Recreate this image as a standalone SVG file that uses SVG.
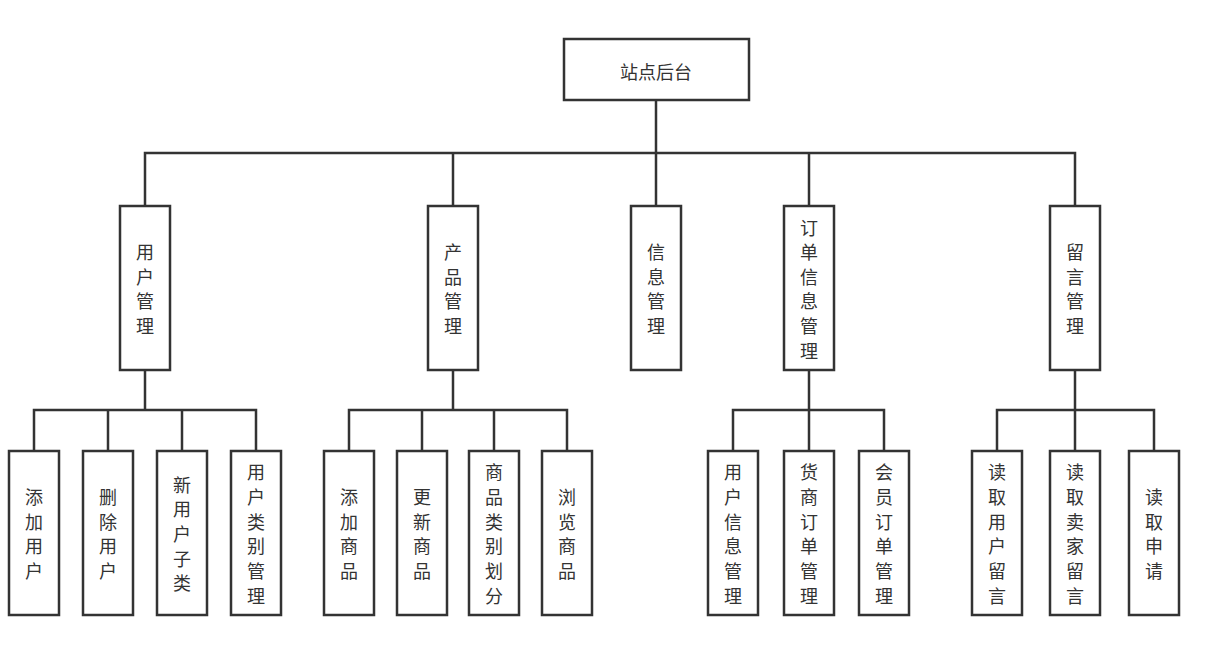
<svg xmlns="http://www.w3.org/2000/svg" width="1217" height="654" viewBox="0 0 1217 654">
<style>
.box{fill:#fff;stroke:#333;stroke-width:2.5}
.lbl{font-family:"Noto Sans CJK SC","Noto Sans",sans-serif;font-size:18px;fill:#333;text-anchor:middle;dominant-baseline:central}
.conn path{fill:none;stroke:#333;stroke-width:2.5}
</style>
<rect width="1217" height="654" fill="#fff"/>
<g class="conn" id="connectors">
<path d="M656 100V153"/>
<path d="M145 206V153H1075V206"/>
<path d="M453 153V206"/><path d="M656 153V206"/><path d="M809 153V206"/>
<path d="M145 370V410"/><path d="M34 451V410H256V451"/><path d="M108 410V451"/><path d="M182 410V451"/>
<path d="M453 370V410"/><path d="M349 451V410H567V451"/><path d="M422 410V451"/><path d="M494 410V451"/>
<path d="M809 370V451"/><path d="M733 451V410H884V451"/>
<path d="M1075 370V451"/><path d="M997 451V410H1154V451"/>
</g>
<g id="root"><rect class="box" x="564" y="39" width="185" height="61"/><text class="lbl" x="656" y="71">站点后台</text></g>

<g id="n-user"><rect class="box" x="120" y="206" width="50" height="164"/><text class="lbl"><tspan x="145" y="251">用</tspan><tspan x="145" y="276">户</tspan><tspan x="145" y="300">管</tspan><tspan x="145" y="325">理</tspan></text></g>
<g id="n-product"><rect class="box" x="428" y="206" width="50" height="164"/><text class="lbl"><tspan x="453" y="251">产</tspan><tspan x="453" y="276">品</tspan><tspan x="453" y="300">管</tspan><tspan x="453" y="325">理</tspan></text></g>
<g id="n-info"><rect class="box" x="631" y="206" width="50" height="164"/><text class="lbl"><tspan x="656" y="251">信</tspan><tspan x="656" y="276">息</tspan><tspan x="656" y="300">管</tspan><tspan x="656" y="325">理</tspan></text></g>
<g id="n-order"><rect class="box" x="784" y="206" width="50" height="164"/><text class="lbl"><tspan x="809" y="227">订</tspan><tspan x="809" y="251">单</tspan><tspan x="809" y="276">信</tspan><tspan x="809" y="300">息</tspan><tspan x="809" y="325">管</tspan><tspan x="809" y="350">理</tspan></text></g>
<g id="n-msg"><rect class="box" x="1050" y="206" width="50" height="164"/><text class="lbl"><tspan x="1075" y="251">留</tspan><tspan x="1075" y="276">言</tspan><tspan x="1075" y="300">管</tspan><tspan x="1075" y="325">理</tspan></text></g>

<g id="l-adduser"><rect class="box" x="9" y="451" width="50" height="164"/><text class="lbl"><tspan x="34" y="496">添</tspan><tspan x="34" y="521">加</tspan><tspan x="34" y="545">用</tspan><tspan x="34" y="570">户</tspan></text></g>
<g id="l-deluser"><rect class="box" x="83" y="451" width="50" height="164"/><text class="lbl"><tspan x="108" y="496">删</tspan><tspan x="108" y="521">除</tspan><tspan x="108" y="545">用</tspan><tspan x="108" y="570">户</tspan></text></g>
<g id="l-newsub"><rect class="box" x="157" y="451" width="50" height="164"/><text class="lbl"><tspan x="182" y="484">新</tspan><tspan x="182" y="508">用</tspan><tspan x="182" y="533">户</tspan><tspan x="182" y="558">子</tspan><tspan x="182" y="582">类</tspan></text></g>
<g id="l-usercat"><rect class="box" x="231" y="451" width="50" height="164"/><text class="lbl"><tspan x="256" y="471">用</tspan><tspan x="256" y="496">户</tspan><tspan x="256" y="521">类</tspan><tspan x="256" y="545">别</tspan><tspan x="256" y="570">管</tspan><tspan x="256" y="595">理</tspan></text></g>

<g id="l-addgoods"><rect class="box" x="324" y="451" width="50" height="164"/><text class="lbl"><tspan x="349" y="496">添</tspan><tspan x="349" y="521">加</tspan><tspan x="349" y="545">商</tspan><tspan x="349" y="570">品</tspan></text></g>
<g id="l-updgoods"><rect class="box" x="397" y="451" width="50" height="164"/><text class="lbl"><tspan x="422" y="496">更</tspan><tspan x="422" y="521">新</tspan><tspan x="422" y="545">商</tspan><tspan x="422" y="570">品</tspan></text></g>
<g id="l-goodscat"><rect class="box" x="469" y="451" width="50" height="164"/><text class="lbl"><tspan x="494" y="471">商</tspan><tspan x="494" y="496">品</tspan><tspan x="494" y="521">类</tspan><tspan x="494" y="545">别</tspan><tspan x="494" y="570">划</tspan><tspan x="494" y="595">分</tspan></text></g>
<g id="l-browse"><rect class="box" x="542" y="451" width="50" height="164"/><text class="lbl"><tspan x="567" y="496">浏</tspan><tspan x="567" y="521">览</tspan><tspan x="567" y="545">商</tspan><tspan x="567" y="570">品</tspan></text></g>

<g id="l-userinfo"><rect class="box" x="708" y="451" width="50" height="164"/><text class="lbl"><tspan x="733" y="471">用</tspan><tspan x="733" y="496">户</tspan><tspan x="733" y="521">信</tspan><tspan x="733" y="545">息</tspan><tspan x="733" y="570">管</tspan><tspan x="733" y="595">理</tspan></text></g>
<g id="l-vendororder"><rect class="box" x="784" y="451" width="50" height="164"/><text class="lbl"><tspan x="809" y="471">货</tspan><tspan x="809" y="496">商</tspan><tspan x="809" y="521">订</tspan><tspan x="809" y="545">单</tspan><tspan x="809" y="570">管</tspan><tspan x="809" y="595">理</tspan></text></g>
<g id="l-memberorder"><rect class="box" x="859" y="451" width="50" height="164"/><text class="lbl"><tspan x="884" y="471">会</tspan><tspan x="884" y="496">员</tspan><tspan x="884" y="521">订</tspan><tspan x="884" y="545">单</tspan><tspan x="884" y="570">管</tspan><tspan x="884" y="595">理</tspan></text></g>

<g id="l-readusermsg"><rect class="box" x="972" y="451" width="50" height="164"/><text class="lbl"><tspan x="997" y="471">读</tspan><tspan x="997" y="496">取</tspan><tspan x="997" y="521">用</tspan><tspan x="997" y="545">户</tspan><tspan x="997" y="570">留</tspan><tspan x="997" y="595">言</tspan></text></g>
<g id="l-readsellermsg"><rect class="box" x="1050" y="451" width="50" height="164"/><text class="lbl"><tspan x="1075" y="471">读</tspan><tspan x="1075" y="496">取</tspan><tspan x="1075" y="521">卖</tspan><tspan x="1075" y="545">家</tspan><tspan x="1075" y="570">留</tspan><tspan x="1075" y="595">言</tspan></text></g>
<g id="l-readapply"><rect class="box" x="1129" y="451" width="50" height="164"/><text class="lbl"><tspan x="1154" y="496">读</tspan><tspan x="1154" y="521">取</tspan><tspan x="1154" y="545">申</tspan><tspan x="1154" y="570">请</tspan></text></g>
</svg>
